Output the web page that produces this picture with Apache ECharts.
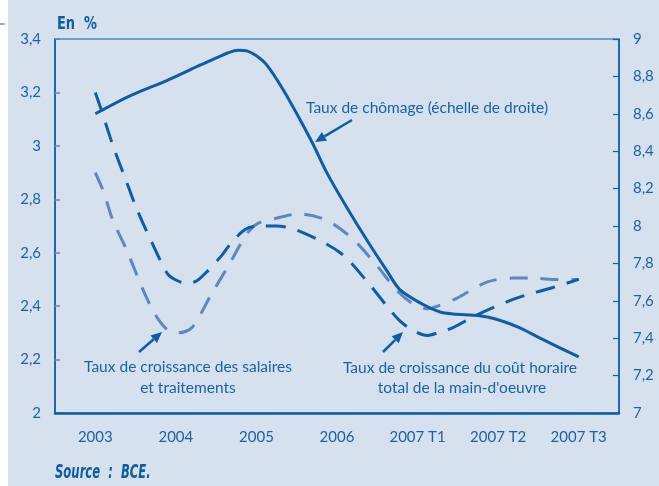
<!DOCTYPE html>
<html><head><meta charset="utf-8">
<script src="https://cdn.jsdelivr.net/npm/echarts@6/dist/echarts.min.js"></script>
<style>html,body{margin:0;padding:0;background:#fff}#c{width:659px;height:486px}</style>
</head><body><div id="c"></div>
<script>
const categories = ['2003','2004','2005','2006','2007 T1','2007 T2','2007 T3'];
// x in category units (0 = 2003 centre)
const chomage = [[0,8.60],[0.45,8.70],[0.90,8.78],[1.30,8.86],[1.51,8.90],[1.64,8.925],[1.77,8.94],[1.89,8.935],[2.00,8.91],[2.13,8.86],[2.33,8.73],[2.54,8.57],[2.70,8.44],[2.88,8.28],[3.12,8.10],[3.37,7.925],[3.62,7.76],[3.78,7.66],[4.07,7.58],[4.28,7.54],[4.44,7.53],[4.77,7.52],[4.99,7.50],[5.27,7.455],[5.52,7.40],[6.0,7.30]];
const coutHoraire = [[0,3.20],[0.08,3.13],[0.22,3.00],[0.37,2.88],[0.52,2.76],[0.70,2.64],[0.90,2.52],[1.02,2.495],[1.14,2.485],[1.26,2.495],[1.39,2.53],[1.57,2.59],[1.67,2.63],[1.85,2.685],[2.00,2.70],[2.25,2.70],[2.54,2.68],[3.04,2.60],[3.38,2.49],[3.62,2.40],[3.78,2.345],[3.94,2.31],[4.12,2.29],[4.25,2.30],[4.44,2.32],[4.69,2.36],[4.90,2.39],[5.23,2.43],[5.68,2.47],[6.0,2.50]];
const salaires = [[0,2.90],[0.10,2.83],[0.22,2.72],[0.39,2.61],[0.58,2.47],[0.74,2.37],[0.90,2.31],[1.03,2.30],[1.20,2.32],[1.45,2.45],[1.65,2.55],[1.88,2.67],[2.02,2.71],[2.26,2.73],[2.54,2.745],[2.88,2.72],[3.20,2.65],[3.50,2.55],[3.74,2.46],[3.94,2.41],[4.12,2.39],[4.25,2.40],[4.49,2.43],[4.86,2.49],[5.19,2.505],[5.43,2.505],[5.68,2.50],[6.0,2.50]];

const DARK = '#0d5ea6', LIGHT = '#5d87c0', TXT = '#1a62a8', BG = '#d6e1f0';
const FONT = 'Lato, "Open Sans", sans-serif';
const NARROW = '"Liberation Sans Narrow", "DejaVu Sans Condensed", "Liberation Sans", sans-serif';
const chart = echarts.init(document.getElementById('c'));

function arrow(x1,y1,x2,y2){
  const a = Math.atan2(y2-y1,x2-x1), L=11, W=5;
  const bx = x2 - L*Math.cos(a), by = y2 - L*Math.sin(a);
  return [
    {type:'line', shape:{x1:x1,y1:y1,x2:bx,y2:by}, style:{stroke:DARK,lineWidth:2.5}},
    {type:'polygon', shape:{points:[[x2,y2],[bx+W*Math.sin(a),by-W*Math.cos(a)],[bx-W*Math.sin(a),by+W*Math.cos(a)]]}, style:{fill:DARK}}
  ];
}
function txt(x,y,t,align){
  return {type:'text', x:x, y:y, style:{text:t, fill:TXT, font:'15.5px '+FONT, textAlign:align||'center', textVerticalAlign:'middle'}};
}
const fmt = v => String(+v.toFixed(1)).replace('.',',');

chart.setOption({
  backgroundColor: BG,
  animation: false,
  grid: {left:55, right:40, top:39, bottom:73, show:true, borderColor:DARK, borderWidth:1.2},
  xAxis: [
    {type:'category', data:categories, boundaryGap:true, position:'bottom',
     axisLine:{show:true,onZero:false,lineStyle:{color:DARK,width:2.5}},
     axisTick:{inside:true,length:6,lineStyle:{color:DARK,width:1.2}},
     axisLabel:{color:TXT,fontSize:15,fontFamily:FONT,margin:17},
     splitLine:{show:false}, z:5},
    {type:'value', min:-0.5, max:6.5, show:false}
  ],
  yAxis: [
    {type:'value', min:2, max:3.4, interval:0.2, position:'left',
     axisLine:{show:true,onZero:false,lineStyle:{color:DARK,width:1.5}},
     axisTick:{show:true,inside:true,length:5,lineStyle:{color:LIGHT,width:1.5}},
     axisLabel:{color:TXT,fontSize:15,fontFamily:FONT,margin:14,formatter:fmt},
     splitLine:{show:false}},
    {type:'value', min:7, max:9, interval:0.2, position:'right',
     axisLine:{show:true,onZero:false,lineStyle:{color:DARK,width:1.5}},
     axisTick:{show:true,inside:true,length:6,lineStyle:{color:DARK,width:1.2}},
     axisLabel:{color:TXT,fontSize:15,fontFamily:FONT,margin:14,formatter:fmt},
     splitLine:{show:false}}
  ],
  series: [
    {type:'line', name:'salaires', xAxisIndex:1, yAxisIndex:0, data:salaires, smooth:0.3, symbol:'none',
     lineStyle:{color:LIGHT,width:3,type:[18,13]}},
    {type:'line', name:'cout', xAxisIndex:1, yAxisIndex:0, data:coutHoraire, smooth:0.3, symbol:'none',
     lineStyle:{color:DARK,width:3,type:[20,12]}},
    {type:'line', name:'chomage', xAxisIndex:1, yAxisIndex:1, data:chomage, smooth:0.3, symbol:'none',
     lineStyle:{color:DARK,width:3}}
  ],
  graphic: [
    {type:'rect', shape:{x:0,y:0,width:8,height:486}, style:{fill:'#ffffff'}},
    {type:'line', shape:{x1:0,y1:24,x2:5,y2:24}, style:{stroke:DARK,lineWidth:1}},
    {type:'text', x:57, y:24, scaleX:0.8, style:{text:'En  %', fill:DARK, font:'bold 18px '+NARROW, textVerticalAlign:'middle'}},
    {type:'text', x:55, y:473, scaleX:0.68, style:{text:'Source  :  BCE.', fill:DARK, font:'italic bold 19px '+NARROW, textVerticalAlign:'middle'}},
    txt(306,108,'Taux de chômage (échelle de droite)','left'),
    txt(188,367,'Taux de croissance des salaires'),
    txt(188,388,'et traitements'),
    txt(460,368,'Taux de croissance du coût horaire'),
    txt(462,388,"total de la main-d'oeuvre"),
    ...arrow(352,120,315,142),
    ...arrow(139,352,162,332),
    ...arrow(383,352,403,332)
  ]
});
</script></body></html>
